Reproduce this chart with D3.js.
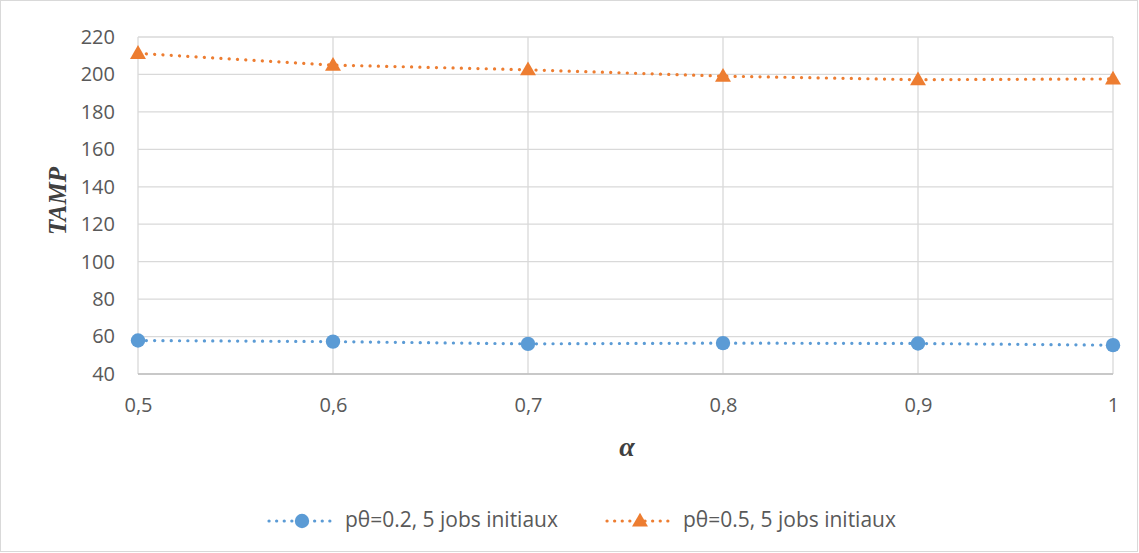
<!DOCTYPE html>
<html><head><meta charset="utf-8">
<script src="https://cdn.jsdelivr.net/npm/d3@7"></script>
<style>body{margin:0;background:#fff}svg{display:block}</style>
</head><body>
<svg id="c" width="1139" height="553"></svg>
<script>
const alphas = [0.5, 0.6, 0.7, 0.8, 0.9, 1];
const xTickLabels = ["0,5", "0,6", "0,7", "0,8", "0,9", "1"];
const yTicks = [40, 60, 80, 100, 120, 140, 160, 180, 200, 220];
const seriesNames = ["pθ=0.2, 5 jobs initiaux", "pθ=0.5, 5 jobs initiaux"];
const series02 = [57.9, 57.3, 56.1, 56.5, 56.3, 55.4];
const series05 = [211.3, 205.0, 202.5, 199.1, 197.2, 197.6];
const colors = ["#5b9bd5", "#ed7d31"];

const svg = d3.select("#c");
const font = "'Open Sans', Lato, sans-serif";
svg.append("rect").attr("x",0.5).attr("y",0.5).attr("width",1137).attr("height",551)
  .attr("fill","#fff").attr("stroke","#d9d9d9");

const x = d3.scaleLinear().domain([0.5, 1]).range([138, 1113]);
const y = d3.scaleLinear().domain([40, 220]).range([374, 37]);

// gridlines
svg.append("g").selectAll("line").data(yTicks).join("line")
  .attr("x1",138).attr("x2",1113).attr("y1",d=>y(d)).attr("y2",d=>y(d))
  .attr("stroke","#d9d9d9").attr("stroke-width",1.3);
svg.append("g").selectAll("line").data(alphas).join("line")
  .attr("x1",d=>x(d)).attr("x2",d=>x(d)).attr("y1",37).attr("y2",374)
  .attr("stroke","#d9d9d9").attr("stroke-width",1.3);
svg.append("line").attr("x1",138).attr("x2",1113).attr("y1",374).attr("y2",374)
  .attr("stroke","#bfbfbf").attr("stroke-width",1.3);

// axes
const yAxis = d3.axisLeft(y).tickValues(yTicks).tickSize(0).tickPadding(23);
const gy = svg.append("g").attr("transform","translate(138,0)").call(yAxis);
gy.select(".domain").remove();
gy.selectAll("text").attr("font-family",font).attr("font-size",20).attr("fill","#595959");

const xAxis = d3.axisBottom(x).tickValues(alphas).tickFormat((d,i)=>xTickLabels[i]).tickSize(0).tickPadding(24);
const gx = svg.append("g").attr("transform","translate(0,374)").call(xAxis);
gx.select(".domain").remove();
gx.selectAll("text").attr("font-family",font).attr("font-size",20).attr("fill","#595959");

// titles
svg.append("text").attr("x",627).attr("y",456).attr("text-anchor","middle")
  .attr("font-family","'Liberation Serif', serif").attr("font-weight","bold").attr("font-style","italic")
  .attr("font-size",28).attr("fill","#404040").text("α");
svg.append("text").attr("transform","translate(66,201) rotate(-90)").attr("text-anchor","middle")
  .attr("font-family","'Liberation Serif', serif").attr("font-weight","bold").attr("font-style","italic")
  .attr("font-size",25).attr("fill","#404040").text("TAMP");

// lines
const data = [series02, series05];
const line = d3.line().x((d,i)=>x(alphas[i])).y(d=>y(d));
data.forEach((s,k)=>{
  svg.append("path").attr("d",line(s)).attr("fill","none").attr("stroke",colors[k])
    .attr("stroke-width",3.2).attr("stroke-linecap","round").attr("stroke-dasharray","0.1 8.2");
});
const tri = d3.symbol().type(d3.symbolTriangle).size(110);
svg.append("g").selectAll("circle").data(series02).join("circle")
  .attr("cx",(d,i)=>x(alphas[i])).attr("cy",d=>y(d)).attr("r",7.2).attr("fill",colors[0]);
svg.append("g").selectAll("path").data(series05).join("path")
  .attr("d",tri).attr("transform",(d,i)=>`translate(${x(alphas[i])},${y(d)+1})`).attr("fill",colors[1]);

// legend
const leg = [{x0:269,mx:302,tx:345},{x0:607,mx:640,tx:683}];
leg.forEach((l,k)=>{
  svg.append("line").attr("x1",l.x0).attr("x2",l.x0+62).attr("y1",521).attr("y2",521)
    .attr("stroke",colors[k]).attr("stroke-width",3.2).attr("stroke-linecap","round").attr("stroke-dasharray","0.1 7.5");
  if(k===0) svg.append("circle").attr("cx",l.mx).attr("cy",521).attr("r",7.2).attr("fill",colors[0]);
  else svg.append("path").attr("d",tri).attr("transform",`translate(${l.mx},522)`).attr("fill",colors[1]);
  const t = svg.append("text").attr("x",l.tx).attr("y",527).attr("font-family",font).attr("font-size",19)
    .attr("fill","#595959").text(seriesNames[k]);
  const w = t.node().getComputedTextLength();
  t.attr("font-size", 19*213/w);
});
</script>
</body></html>
